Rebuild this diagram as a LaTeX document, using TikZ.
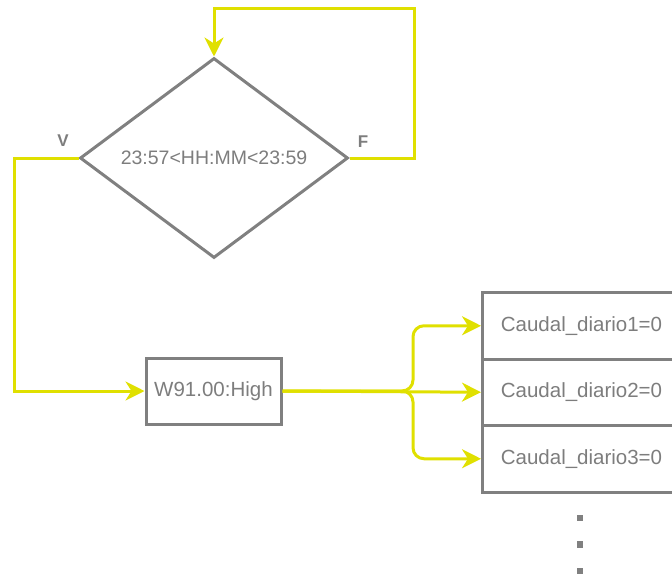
\documentclass[tikz,border=0pt]{standalone}
\usepackage{fontspec}
\setmainfont{Liberation Sans}
\usetikzlibrary{shapes.geometric,arrows.meta}
\definecolor{flowyellow}{RGB}{224,224,0}
\definecolor{boxgray}{RGB}{128,128,128}
\definecolor{txtgray}{RGB}{125,125,125}
\tikzset{
  flowbox/.style={draw=boxgray,line width=3pt,rectangle,inner sep=0pt,
    text=txtgray,font=\fontsize{20.5}{24}\selectfont},
  decision/.style={draw=boxgray,line width=3pt,diamond,inner sep=0pt,aspect=1.34,
    minimum width=268pt,minimum height=200pt,text=txtgray,font=\fontsize{19.5}{24}\selectfont},
  flowline/.style={draw=flowyellow,line width=3pt},
  flowarrow/.style={flowline,-{Stealth[length=19pt,width=19pt,inset=6pt]}},
  branchlabel/.style={text=txtgray,font=\bfseries\fontsize{17}{19}\selectfont,inner sep=0pt},
  dotmark/.style={fill=boxgray,draw=none,minimum size=6.5pt,inner sep=0pt,rectangle}
}
\begin{document}
\begin{tikzpicture}[x=1pt,y=-1pt]
\useasboundingbox (0,0) rectangle (672,576);
\clip (0,0) rectangle (672,576);

% decision and process boxes
\node[decision] (cond) at (214,158) {23:57<HH:MM<23:59};
\node[flowbox,minimum width=135pt,minimum height=66pt] (w91) at (213.5,391) {W91.00:High};
\node[flowbox,minimum width=198pt,minimum height=66.5pt,anchor=north west] (c1) at (481,291) {Caudal\_diario1=0};
\node[flowbox,minimum width=198pt,minimum height=66.5pt,anchor=north west] (c2) at (481,357.5) {Caudal\_diario2=0};
\node[flowbox,minimum width=198pt,minimum height=66.5pt,anchor=north west] (c3) at (481,424) {Caudal\_diario3=0};

% branch labels
\node[branchlabel] (lv) at (63,141) {V};
\node[branchlabel] (lf) at (363,142) {F};

% continuation dots
\node[dotmark] (d1) at (580,518) {};
\node[dotmark] (d2) at (580,544.5) {};
\node[dotmark] (d3) at (580,571) {};

% false branch loops back to the test
\coordinate (fr) at (414,158);
\coordinate (ft) at (414,8);
\draw[flowarrow] (cond.east) -- (fr) -- (ft) -- (ft -| cond.north) -- (cond.north);

% true branch goes to the process box
\coordinate (vl) at (14,158);
\draw[flowarrow] (cond.west) -- (vl) |- (w91.west);

% fan-out to the three counters
\coordinate (split) at (413,391);
\draw[flowarrow,rounded corners=11pt] (w91.east) -- (split) -- (split |- c1.west) -- (c1.west);
\draw[flowarrow,rounded corners=11pt] (w91.east) -- (split) -- (split |- c3.west) -- (c3.west);
\draw[flowarrow] (w91.east) -- (c2.west);
\end{tikzpicture}
\end{document}
